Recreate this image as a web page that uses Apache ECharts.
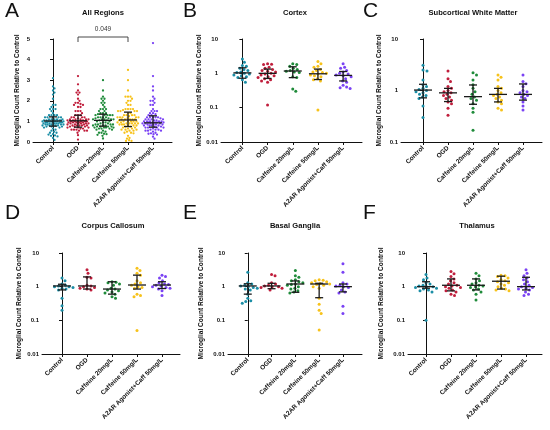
<!DOCTYPE html>
<html><head><meta charset="utf-8">
<script src="https://cdn.jsdelivr.net/npm/echarts@6/dist/echarts.min.js"></script>
<style>html,body{margin:0;padding:0;background:#fff}#c{width:550px;height:430px}</style>
</head><body><div id="c"></div>
<script>
const categories = ['Control','OGD','Caffeine 20mg/L','Caffeine 50mg/L','A2AR Agonist+Caff 50mg/L'];
const groupColors = ['#1b8ea6','#c01e3c','#1f8b3a','#f7c21a','#7a42f4'];

// Cortex (B)
const cortex = [
  [2.6, 2.1, 1.7, 1.6, 1.4, 1.3, 1.2, 1.1, 1.05, 1.0, 0.95, 0.9, 0.85, 0.8, 0.75, 0.65, 0.55],
  [1.9, 1.85, 1.8, 1.5, 1.4, 1.3, 1.2, 1.15, 1.1, 1.0, 0.95, 0.9, 0.85, 0.8, 0.75, 0.7, 0.65, 0.6, 0.55, 0.12],
  [1.9, 1.8, 1.6, 1.4, 1.3, 1.2, 1.15, 1.1, 1.05, 0.8, 0.75, 0.35, 0.3],
  [2.2, 1.9, 1.6, 1.5, 1.3, 1.2, 1.1, 1.05, 1.0, 0.95, 0.9, 0.85, 0.8, 0.7, 0.65, 0.6, 0.085],
  [1.9, 1.5, 1.4, 1.2, 1.1, 1.0, 0.95, 0.9, 0.85, 0.8, 0.7, 0.6, 0.55, 0.45, 0.4, 0.38, 0.36]
];
const cortexMedian = [1.03, 1.0, 1.17, 0.97, 0.87];
const cortexLow    = [0.72, 0.71, 0.75, 0.66, 0.6];
const cortexHigh   = [1.45, 1.33, 1.55, 1.33, 1.13];

// Subcortical White Matter (C)
const subcortical = [
  [3.1, 2.5, 2.4, 1.6, 1.3, 1.2, 1.1, 1.05, 1.0, 0.95, 0.9, 0.85, 0.8, 0.75, 0.7, 0.5, 0.3],
  [2.4, 1.7, 1.5, 1.2, 1.1, 1.0, 0.95, 0.9, 0.85, 0.8, 0.75, 0.7, 0.65, 0.6, 0.55, 0.45, 0.33],
  [2.2, 2.0, 1.6, 1.3, 1.1, 0.95, 0.85, 0.75, 0.7, 0.65, 0.55, 0.45, 0.38, 0.17],
  [2.0, 1.8, 1.6, 1.2, 1.1, 1.0, 0.9, 0.85, 0.8, 0.75, 0.7, 0.65, 0.6, 0.55, 0.45, 0.42],
  [2.0, 1.5, 1.35, 1.2, 1.0, 0.95, 0.9, 0.85, 0.8, 0.75, 0.7, 0.6, 0.5, 0.42]
];
const subcorticalMedian = [1.02, 0.9, 0.76, 0.84, 0.84];
const subcorticalLow    = [0.72, 0.61, 0.54, 0.6, 0.65];
const subcorticalHigh   = [1.32, 1.1, 1.28, 1.1, 1.34];

// Corpus Callosum (D)
const callosum = [
  [1.8, 1.5, 1.2, 1.1, 1.05, 1.0, 1.0, 0.95, 0.9, 0.85, 0.8, 0.45, 0.27, 0.2],
  [3.2, 2.5, 1.9, 1.8, 1.1, 1.05, 1.0, 0.95, 0.9, 0.85, 0.8],
  [1.4, 1.35, 1.3, 1.2, 1.1, 0.9, 0.85, 0.8, 0.75, 0.7, 0.65, 0.6, 0.5, 0.45],
  [3.5, 3.0, 2.5, 2.2, 1.5, 1.3, 1.2, 1.1, 1.0, 0.95, 0.9, 0.6, 0.55, 0.5, 0.05],
  [2.2, 2.0, 1.8, 1.5, 1.3, 1.2, 1.15, 1.1, 1.05, 1.0, 0.95, 0.9, 0.85, 0.75, 0.55]
];
const callosumMedian = [1.05, 1.05, 0.85, 1.12, 1.12];
const callosumLow    = [0.8, 0.85, 0.6, 0.85, 0.88];
const callosumHigh   = [1.18, 1.95, 1.4, 2.2, 1.4];

// Basal Ganglia (E)
const basal = [
  [2.7, 1.3, 1.2, 1.1, 1.05, 1.0, 0.95, 0.9, 0.85, 0.8, 0.6, 0.45, 0.38, 0.36, 0.32],
  [2.3, 2.1, 1.3, 1.2, 1.1, 1.05, 1.0, 1.0, 0.95, 0.9, 0.8],
  [3.0, 2.1, 1.9, 1.6, 1.5, 1.4, 1.3, 1.2, 1.15, 1.1, 1.0, 0.9, 0.85, 0.75, 0.7, 0.65],
  [1.6, 1.55, 1.5, 1.4, 1.3, 1.25, 1.2, 1.15, 1.1, 1.0, 0.9, 0.45, 0.3, 0.2, 0.16, 0.052],
  [4.8, 2.7, 1.3, 1.2, 1.1, 1.05, 1.0, 0.95, 0.8, 0.7, 0.65, 0.26, 0.16]
];
const basalMedian = [1.05, 1.05, 1.2, 1.2, 1.0];
const basalLow    = [0.6, 0.87, 0.68, 0.47, 0.7];
const basalHigh   = [1.22, 1.26, 1.48, 1.26, 1.2];

// Thalamus (F)
const thalamus = [
  [2.3, 1.8, 1.6, 1.3, 1.2, 1.1, 1.05, 1.0, 1.0, 0.95, 0.9, 0.85, 0.8, 0.75, 0.7, 0.1],
  [2.8, 2.4, 2.0, 1.7, 1.5, 1.3, 1.2, 1.1, 1.05, 1.0, 0.95, 0.9, 0.8, 0.75, 0.7, 0.6, 0.55],
  [2.5, 2.1, 1.7, 1.5, 1.3, 1.2, 1.1, 1.05, 1.0, 0.95, 0.85, 0.8, 0.7, 0.6, 0.4],
  [2.2, 2.1, 2.0, 1.8, 1.6, 1.5, 1.4, 1.3, 1.2, 1.1, 1.0, 0.9, 0.85, 0.8, 0.75],
  [3.2, 2.5, 2.1, 1.8, 1.6, 1.4, 1.2, 1.1, 1.0, 0.95, 0.9, 0.85, 0.8, 0.7, 0.6, 0.55]
];
const thalamusMedian = [1.0, 1.1, 1.1, 1.45, 1.0];
const thalamusLow    = [0.9, 0.75, 0.8, 0.85, 0.8];
const thalamusHigh   = [1.4, 1.7, 1.7, 2.05, 1.9];

// All Regions (A) = union of the five regions
const allRegions = categories.map((_, i) =>
  [].concat(cortex[i], subcortical[i], callosum[i], basal[i], thalamus[i]));
const allMedian = [1.02, 1.03, 1.05, 1.07, 0.93];
const allLow    = [0.77, 0.72, 0.77, 0.75, 0.72];
const allHigh   = [1.22, 1.3, 1.35, 1.45, 1.27];

const sigPair = [1, 3];
const sigLabel = '0.049';
const linearTicks = [0, 5, 1];

const FONT = "'Liberation Sans', Arial, sans-serif";

const panels = [
  {letter:'A', title:'All Regions', data:allRegions, med:allMedian, lo:allLow, hi:allHigh,
   box:[33,39,139,103], x:[-0.8,4.76], log:false, yr:linearTicks, nameGap:12, letterXY:[5,1], titleXY:[103,13], d:2.3, maxW:10.5, r:1.15},
  {letter:'B', title:'Cortex', data:cortex, med:cortexMedian, lo:cortexLow, hi:cortexHigh,
   box:[221,39,141,103], x:[-0.85,4.75], log:true, yr:[0.01,10], nameGap:18, letterXY:[183,1], titleXY:[295,13], d:3.7, maxW:11, r:1.5},
  {letter:'C', title:'Subcortical White Matter', data:subcortical, med:subcorticalMedian, lo:subcorticalLow, hi:subcorticalHigh,
   box:[401,39,141,103], x:[-0.88,4.76], log:true, yr:[0.1,10], nameGap:18, letterXY:[363,1], titleXY:[473,13], d:3.7, maxW:11, r:1.5},
  {letter:'D', title:'Corpus Callosum', data:callosum, med:callosumMedian, lo:callosumLow, hi:callosumHigh,
   box:[42,253,138,101], x:[-0.8,4.72], log:true, yr:[0.01,10], nameGap:19, letterXY:[5,203], titleXY:[113,226], d:3.7, maxW:11, r:1.5},
  {letter:'E', title:'Basal Ganglia', data:basal, med:basalMedian, lo:basalLow, hi:basalHigh,
   box:[228,253,134,101], x:[-0.83,4.8], log:true, yr:[0.01,10], nameGap:23, letterXY:[183,203], titleXY:[295,226], d:3.7, maxW:11, r:1.5},
  {letter:'F', title:'Thalamus', data:thalamus, med:thalamusMedian, lo:thalamusLow, hi:thalamusHigh,
   box:[408,253,134,101], x:[-0.72,4.64], log:true, yr:[0.01,10], nameGap:23, letterXY:[363,203], titleXY:[477,226], d:3.7, maxW:11, r:1.5}
];

const chart = echarts.init(document.getElementById('c'), null, {renderer:'canvas'});

function buildOption(offsets) {
  const grid = [], xAxis = [], yAxis = [], series = [], graphic = [];
  panels.forEach((p, gi) => {
    grid.push({left:p.box[0], top:p.box[1], width:p.box[2], height:p.box[3], containLabel:false});
    xAxis.push({
      type:'value', gridIndex:gi, min:p.x[0], max:p.x[1],
      axisLine:{show:true, onZero:false, lineStyle:{color:'#111', width:1}},
      axisTick:{show:true, length:3, customValues:[0,1,2,3,4], lineStyle:{color:'#111'}},
      axisLabel:{show:true, customValues:[0,1,2,3,4], rotate:45, margin:5,
        formatter:v => categories[Math.round(v)], fontFamily:FONT, fontWeight:'bold', fontSize:6.4, color:'#111'},
      splitLine:{show:false}
    });
    const ya = {
      gridIndex:gi, name:'Microglial Count Relative to Control', nameLocation:'middle', nameGap:p.nameGap,
      nameTextStyle:{fontFamily:FONT, fontWeight:'bold', fontSize:6.6, color:'#111'},
      axisLine:{show:true, lineStyle:{color:'#111', width:1}},
      axisTick:{show:true, length:3, lineStyle:{color:'#111'}},
      axisLabel:{fontFamily:FONT, fontWeight:'bold', fontSize:6, color:'#111', margin:3},
      splitLine:{show:false}
    };
    if (p.log) {
      Object.assign(ya, {type:'log', logBase:10, min:p.yr[0], max:p.yr[1],
        axisLabel:Object.assign({}, ya.axisLabel, {formatter:v => String(+v.toPrecision(2))})});
    } else {
      Object.assign(ya, {type:'value', min:p.yr[0], max:p.yr[1], interval:p.yr[2]});
    }
    yAxis.push(ya);

    const pts = [];
    p.data.forEach((arr, ci) => arr.forEach((v, k) => {
      pts.push([ci, v, offsets ? offsets[gi][ci][k] : 0, ci]);
    }));
    const rad = p.r;
    series.push({
      type:'custom', xAxisIndex:gi, yAxisIndex:gi, data:pts, clip:false, silent:true,
      encode:{x:0, y:1},
      renderItem:(params, api) => {
        const c = api.coord([api.value(0), api.value(1)]);
        return {type:'circle', shape:{cx:c[0] + api.value(2), cy:c[1], r:rad},
          style:{fill:groupColors[api.value(3)]}};
      }
    });
    const bars = p.med.map((m, ci) => [ci, m, p.lo[ci], p.hi[ci]]);
    series.push({
      type:'custom', xAxisIndex:gi, yAxisIndex:gi, data:bars, clip:false, silent:true, z:5,
      encode:{x:0, y:[1,2,3]},
      renderItem:(params, api) => {
        const x = api.value(0);
        const m = api.coord([x, api.value(1)]);
        const l = api.coord([x, api.value(2)]);
        const h = api.coord([x, api.value(3)]);
        const st = {stroke:'#1a1a1a', lineWidth:1.3};
        return {type:'group', children:[
          {type:'line', shape:{x1:m[0]-9, y1:m[1], x2:m[0]+9, y2:m[1]}, style:st},
          {type:'line', shape:{x1:l[0], y1:l[1], x2:h[0], y2:h[1]}, style:st},
          {type:'line', shape:{x1:l[0]-4, y1:l[1], x2:l[0]+4, y2:l[1]}, style:st},
          {type:'line', shape:{x1:h[0]-4, y1:h[1], x2:h[0]+4, y2:h[1]}, style:st}
        ]};
      }
    });
    if (gi === 0) {
      series.push({
        type:'custom', xAxisIndex:0, yAxisIndex:0, data:[[sigPair[0], sigPair[1]]], clip:false, silent:true,
        encode:{x:[0,1]},
        renderItem:(params, api) => {
          const a = api.coord([api.value(0), 5]);
          const b = api.coord([api.value(1), 5]);
          const top = a[1] - 2, leg = a[1] + 3;
          const st = {stroke:'#333', lineWidth:0.9};
          return {type:'group', children:[
            {type:'line', shape:{x1:a[0], y1:top, x2:b[0], y2:top}, style:st},
            {type:'line', shape:{x1:a[0], y1:top, x2:a[0], y2:leg}, style:st},
            {type:'line', shape:{x1:b[0], y1:top, x2:b[0], y2:leg}, style:st},
            {type:'text', style:{x:(a[0]+b[0])/2, y:top-4, text:sigLabel, align:'center', verticalAlign:'bottom',
              font:'6.5px ' + FONT, fill:'#333'}}
          ]};
        }
      });
    }
    graphic.push({type:'text', left:p.letterXY[0], top:p.letterXY[1],
      style:{text:p.letter, font:'21px ' + FONT, fill:'#111'}});
    graphic.push({type:'text', x:p.titleXY[0], y:p.titleXY[1],
      style:{text:p.title, font:'bold 7.6px ' + FONT, fill:'#111', align:'center', verticalAlign:'middle'}});
  });
  return {animation:false, backgroundColor:'#fff', grid, xAxis, yAxis, series, graphic};
}

function swarm(ys, d, maxW) {
  const order = ys.map((y, i) => i).sort((a, b) => ys[a] - ys[b]);
  const placed = [];
  const off = new Array(ys.length);
  for (const i of order) {
    let best = 0, bestScore = -1;
    const steps = Math.ceil(maxW / 0.5);
    for (let k = 0; k <= 2 * steps; k++) {
      const o = (k % 2 ? 1 : -1) * Math.ceil(k / 2) * 0.5;
      let minD = Infinity;
      for (const q of placed) {
        const dy = q.y - ys[i];
        if (Math.abs(dy) >= d) continue;
        const dd = Math.hypot(q.x - o, dy);
        if (dd < minD) minD = dd;
      }
      if (minD >= d) { best = o; bestScore = Infinity; break; }
      if (minD > bestScore) { bestScore = minD; best = o; }
    }
    off[i] = best + 0;
    placed.push({x: best, y: ys[i]});
  }
  return off;
}

chart.setOption(buildOption(null));
const offsets = panels.map((p, gi) => p.data.map((arr, ci) => {
  const ys = arr.map(v => chart.convertToPixel({gridIndex: gi}, [ci, v])[1]);
  return swarm(ys, p.d, p.maxW);
}));
chart.setOption(buildOption(offsets), true);
</script>
</body></html>
